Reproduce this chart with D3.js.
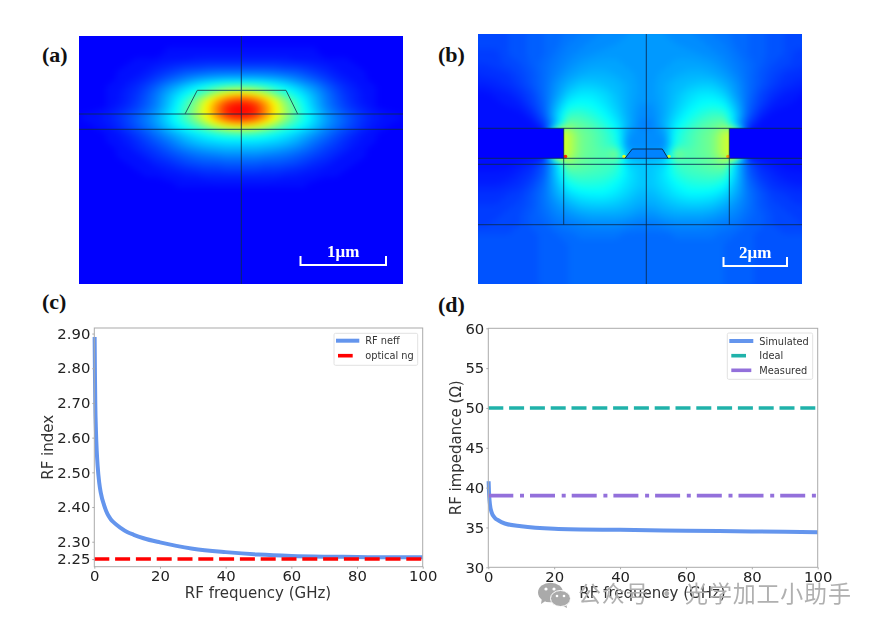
<!DOCTYPE html>
<html>
<head>
<meta charset="utf-8">
<script src="https://cdn.jsdelivr.net/npm/d3@7"></script>
<style>
  html, body { margin: 0; background: #fff; }
  svg { display: block; }
  text { font-family: "DejaVu Sans", sans-serif; }
  .panelLabel { font-family: "Liberation Serif", serif; font-weight: bold; font-size: 22px; fill: #111; }
  .barLabel { font-family: "Liberation Serif", serif; font-weight: bold; font-size: 17px; fill: #fff; }
  .tick text { font-size: 14.8px; fill: #222; }
  .axisTitle { font-size: 15px; fill: #333; }
  .legendText { font-size: 9.8px; fill: #333; }
  .soft { filter: blur(0.45px); }
</style>
</head>
<body>
<svg id="fig" width="879" height="629"></svg>
<script>
// ---- chart (c) ----
const freqC = [0.1, 0.2, 0.3, 0.5, 0.75, 1, 1.5, 2, 3, 4, 5, 6, 8, 10, 12, 15, 20, 25, 30, 40, 50, 60, 70, 80, 90, 100];
const rfNeff = [2.89, 2.78, 2.70, 2.62, 2.56, 2.52, 2.47, 2.44, 2.405, 2.38, 2.365, 2.355, 2.34, 2.328, 2.32, 2.31, 2.298, 2.288, 2.28, 2.27, 2.263, 2.259, 2.257, 2.256, 2.255, 2.255];
const opticalNg = [2.25, 2.25];
const ticksC = [2.25, 2.30, 2.40, 2.50, 2.60, 2.70, 2.80, 2.90];

// ---- chart (d) ----
const freqD = [0.1, 0.2, 0.3, 0.5, 1, 2, 3, 5, 10, 20, 40, 60, 80, 100];
const simulated = [40.8, 39.6, 38.8, 37.9, 36.9, 36.2, 35.9, 35.5, 35.15, 34.85, 34.7, 34.6, 34.5, 34.4];
const ideal = [50, 50];
const measured = [39, 39];
const ticksD = [30, 35, 40, 45, 50, 55, 60];

const freqEnds = [0, 100];
const ticksX = [0, 20, 40, 60, 80, 100];

// ---- field (a): optical mode, half rows from the centre line outwards, percent ----
const fieldAYs = [51, 58, 65, 72, 79, 86, 93, 100, 107, 114, 121, 128, 135, 142, 149, 156, 163, 170, 177, 184];
const fieldADx = [5, 15, 25, 35, 45, 55, 65, 75, 85, 95, 105, 115, 125, 135, 145, 155];
const fieldA = [
  [1, 1, 1, 1, 1, 1, 1, 1, 0, 0, 0, 0, 0, 0, 0, 0],
  [3, 3, 3, 3, 3, 2, 2, 2, 1, 1, 1, 0, 0, 0, 0, 0],
  [7, 7, 7, 7, 6, 6, 5, 4, 3, 2, 1, 1, 0, 0, 0, 0],
  [14, 14, 14, 13, 12, 11, 9, 7, 5, 3, 2, 1, 1, 0, 0, 0],
  [24, 24, 23, 22, 20, 17, 14, 11, 8, 5, 3, 2, 1, 0, 0, 0],
  [42, 41, 38, 34, 30, 26, 21, 17, 12, 8, 5, 3, 1, 1, 0, 0],
  [67, 62, 54, 45, 38, 32, 27, 21, 15, 10, 6, 4, 2, 1, 0, 0],
  [90, 85, 75, 61, 49, 39, 30, 23, 16, 11, 7, 4, 2, 1, 0, 0],
  [100, 95, 81, 66, 52, 42, 32, 24, 17, 12, 8, 5, 3, 1, 0, 0],
  [100, 95, 81, 66, 54, 43, 34, 27, 20, 15, 11, 8, 5, 3, 2, 1],
  [86, 81, 72, 60, 49, 41, 34, 27, 21, 16, 12, 8, 5, 3, 2, 1],
  [60, 57, 51, 45, 39, 34, 29, 24, 18, 14, 10, 7, 4, 2, 1, 0],
  [38, 37, 35, 32, 29, 26, 22, 18, 14, 10, 7, 4, 2, 1, 0, 0],
  [29, 29, 28, 27, 25, 22, 18, 14, 11, 8, 5, 3, 2, 1, 0, 0],
  [23, 23, 22, 21, 19, 17, 14, 11, 8, 6, 4, 2, 1, 0, 0, 0],
  [17, 17, 16, 15, 14, 12, 10, 8, 6, 4, 2, 1, 1, 0, 0, 0],
  [12, 12, 11, 11, 10, 9, 7, 5, 4, 2, 1, 1, 0, 0, 0, 0],
  [8, 8, 7, 7, 6, 5, 4, 3, 2, 1, 1, 0, 0, 0, 0, 0],
  [4, 4, 4, 4, 3, 3, 2, 2, 1, 1, 0, 0, 0, 0, 0, 0],
  [2, 2, 2, 1, 1, 1, 1, 0, 0, 0, 0, 0, 0, 0, 0, 0]
];

// ---- field (b): RF mode, same layout ----
const fieldBYs = [34, 44, 54, 64, 74, 84, 94, 104, 114, 124, 134, 144, 154, 164, 174, 184, 194, 204, 214, 224, 234, 244, 254, 264, 274, 284];
const fieldBDx = [6, 18, 30, 42, 54, 66, 78, 90, 102, 114, 126, 138, 150, 162, 174];
const fieldB = [
  [19, 19, 18, 18, 17, 16, 15, 14, 13, 12, 11, 10, 9, 9, 9],
  [19, 19, 19, 18, 18, 17, 16, 14, 13, 12, 11, 10, 9, 9, 9],
  [19, 20, 20, 20, 19, 18, 17, 15, 13, 12, 11, 10, 8, 8, 8],
  [19, 20, 21, 21, 21, 20, 18, 16, 14, 12, 10, 9, 8, 7, 7],
  [20, 21, 22, 23, 23, 22, 20, 17, 14, 11, 9, 7, 6, 6, 5],
  [20, 22, 24, 25, 26, 26, 23, 19, 14, 11, 8, 6, 5, 4, 4],
  [20, 22, 25, 28, 30, 30, 27, 20, 14, 9, 6, 4, 3, 2, 2],
  [19, 22, 26, 30, 33, 34, 32, 23, 13, 8, 4, 3, 2, 1, 1],
  [18, 22, 28, 33, 37, 40, 39, 26, 12, 5, 2, 1, 1, 1, 1],
  [17, 23, 31, 37, 42, 45, 48, 24, 8, 2, 1, 1, 1, 1, 1],
  [18, 20, 35, 41, 45, 48, 58, 62, 1, 1, 1, 1, 1, 1, 1],
  [18, 18, 36, 41, 45, 48, 58, 62, 1, 1, 1, 1, 1, 1, 1],
  [20, 22, 50, 44, 45, 48, 58, 66, 1, 1, 1, 1, 1, 1, 1],
  [26, 28, 40, 42, 44, 46, 50, 26, 11, 5, 3, 2, 1, 1, 1],
  [26, 30, 37, 40, 41, 42, 41, 26, 12, 7, 5, 3, 3, 3, 3],
  [26, 29, 33, 36, 37, 37, 34, 24, 14, 9, 6, 5, 4, 4, 4],
  [24, 27, 30, 32, 32, 31, 28, 22, 15, 11, 8, 7, 6, 6, 6],
  [22, 24, 26, 27, 27, 26, 23, 19, 15, 11, 9, 8, 7, 7, 7],
  [19, 21, 22, 22, 22, 21, 19, 17, 14, 12, 10, 9, 8, 8, 8],
  [16, 17, 18, 18, 18, 17, 16, 15, 13, 12, 10, 9, 9, 8, 8],
  [14, 14, 15, 15, 15, 15, 14, 13, 12, 11, 10, 10, 10, 10, 10],
  [14, 14, 14, 14, 14, 14, 13, 12, 12, 11, 11, 11, 10, 10, 10],
  [14, 14, 14, 14, 14, 14, 13, 12, 12, 11, 11, 11, 10, 10, 10],
  [13, 13, 13, 13, 13, 13, 13, 12, 12, 11, 11, 11, 10, 10, 10],
  [13, 13, 13, 13, 13, 13, 13, 12, 12, 11, 11, 11, 10, 10, 10],
  [13, 13, 13, 13, 13, 13, 13, 12, 12, 11, 11, 11, 10, 10, 10]
];

const svg = d3.select('#fig');

const fieldColor = d3.scaleLinear()
  .domain([0, 0.33, 0.66, 1])
  .range(['#0000ff', '#00ffff', '#ffff00', '#ff0000']);
const levels = d3.range(0.01, 1, 0.015);

const defs = svg.append('defs');
defs.append('filter').attr('id', 'smear')
  .attr('color-interpolation-filters', 'sRGB')
  .attr('x', '-5%').attr('y', '-5%').attr('width', '110%').attr('height', '110%')
  .append('feGaussianBlur').attr('stdDeviation', 3);

// mirror a half field around its centre line and fill it with contours
function drawField(g, rows, dx, ys, cx, box) {
  const full = dx.slice().reverse().map((d) => -d).concat(dx);
  const n = full.length;
  const m = ys.length;
  const values = [];
  rows.forEach((r) => {
    r.slice().reverse().concat(r).forEach((v) => values.push(v / 100));
  });
  const px = d3.scaleLinear().domain([0.5, n - 0.5]).range([cx + full[0], cx + full[n - 1]]);
  const py = d3.scaleLinear().domain([0.5, m - 0.5]).range([ys[0], ys[m - 1]]);
  const project = d3.geoTransform({
    point(x, y) { this.stream.point(px(x), py(y)); },
  });
  const path = d3.geoPath(project);
  const contours = d3.contours().size([n, m]).thresholds(levels)(values);

  const id = `clip${box.x}`;
  defs.append('clipPath').attr('id', id)
    .append('rect').attr('x', box.x).attr('y', box.y).attr('width', box.w).attr('height', box.h);
  const f = g.append('g').attr('clip-path', `url(#${id})`);
  const smooth = f.append('g').attr('filter', 'url(#smear)');
  smooth.append('rect')
    .attr('x', box.x - 30).attr('y', box.y - 30).attr('width', box.w + 60).attr('height', box.h + 60)
    .attr('fill', fieldColor(box.base));
  smooth.selectAll('path').data(contours).join('path')
    .attr('d', path)
    .attr('fill', (d) => fieldColor(d.value + 0.0075));
  return f;
}

function segs(g, list, color, width) {
  g.selectAll(null).data(list).join('line')
    .attr('x1', (d) => d[0]).attr('y1', (d) => d[1])
    .attr('x2', (d) => d[2]).attr('y2', (d) => d[3])
    .attr('stroke', color).attr('stroke-width', width).attr('stroke-opacity', 0.85);
}

function scaleBar(g, x0, x1, y, h, label) {
  g.append('path')
    .attr('d', `M${x0},${y - h}V${y}H${x1}V${y - h}`)
    .attr('fill', 'none').attr('stroke', '#fff').attr('stroke-width', 2);
  g.append('text').attr('class', 'barLabel')
    .attr('x', (x0 + x1) / 2).attr('y', y - 8).attr('text-anchor', 'middle').text(label);
}

// ---- (a) ----
const boxA = { x: 79, y: 36, w: 324, h: 248, base: 0 };
const gA = svg.append('g').attr('class', 'soft');
drawField(gA, fieldA, fieldADx, fieldAYs, 241, boxA);
segs(gA, [[79, 114, 403, 114], [79, 129.3, 403, 129.3], [241.3, 36, 241.3, 284]], '#0a2a50', 1);
gA.append('path').attr('d', 'M185,114L197.3,90.3H286L297.7,114')
  .attr('fill', 'none').attr('stroke', '#1f5f5f').attr('stroke-width', 1);
scaleBar(gA, 300.5, 386, 265, 9, '1μm');

// ---- (b) ----
const boxB = { x: 478, y: 34, w: 324, h: 250, base: 0.1 };
const gB = svg.append('g').attr('class', 'soft');
const fB = drawField(gB, fieldB, fieldBDx, fieldBYs, 646.3, boxB);
// electrodes and waveguide core have hard edges
fB.append('rect').attr('x', 478).attr('y', 128.3).attr('width', 85.7).attr('height', 30).attr('fill', '#0000ff');
fB.append('rect').attr('x', 729.3).attr('y', 128.3).attr('width', 73).attr('height', 30).attr('fill', '#0000ff');
fB.append('path').attr('d', 'M625,158.3L632.3,149H662.3L668,158.3Z').attr('fill', fieldColor(0.17));
fB.selectAll('circle').data([[565.5, 156.5, 0.95], [728, 156.5, 0.8], [624, 156.5, 0.62], [669, 156.5, 0.6]]).join('circle')
  .attr('cx', (d) => d[0]).attr('cy', (d) => d[1]).attr('r', 1.8).attr('fill', (d) => fieldColor(d[2]));
segs(gB, [
  [478, 128.3, 802, 128.3], [478, 158.3, 802, 158.3], [478, 164.3, 802, 164.3], [478, 224.7, 802, 224.7],
  [646.3, 34, 646.3, 284], [563.7, 128.3, 563.7, 224.7], [729.3, 128.3, 729.3, 224.7],
], '#0a2a50', 1);
gB.append('path').attr('d', 'M625,158.3L632.3,149H662.3L668,158.3')
  .attr('fill', 'none').attr('stroke', '#0a2a50').attr('stroke-width', 1);
scaleBar(gB, 723.5, 787, 266, 9, '2μm');

// ---- line charts ----
function drawAxes(g, x, y, tickVals, fmt, yLabel, yLabelX) {
  const [x0, x1] = x.range();
  const [y0, y1] = y.range();
  g.append('rect').attr('x', x0).attr('y', y1).attr('width', x1 - x0).attr('height', y0 - y1)
    .attr('fill', 'none').attr('stroke', '#aaa').attr('stroke-width', 1);
  const ax = g.append('g').attr('transform', `translate(0,${y0})`)
    .call(d3.axisBottom(x).tickValues(ticksX).tickSize(2).tickPadding(2));
  const ay = g.append('g').attr('transform', `translate(${x0},0)`)
    .call(d3.axisLeft(y).tickValues(tickVals).tickFormat(fmt).tickSize(2).tickPadding(2));
  [ax, ay].forEach((a) => {
    a.select('.domain').remove();
    a.selectAll('line').attr('stroke', '#aaa');
    a.selectAll('text').attr('style', 'font-family:"DejaVu Sans",sans-serif');
  });
  g.append('text').attr('class', 'axisTitle').attr('text-anchor', 'middle')
    .attr('x', (x0 + x1) / 2 - 0.5).attr('y', y0 + 31).text('RF frequency (GHz)');
  g.append('text').attr('class', 'axisTitle').attr('text-anchor', 'middle')
    .attr('transform', `translate(${yLabelX},${(y0 + y1) / 2}) rotate(-90)`).text(yLabel);
}

function drawLine(g, x, y, xs, ys, color, width, dash, curve) {
  const line = d3.line().x((d) => x(d[0])).y((d) => y(d[1])).curve(curve || d3.curveLinear);
  g.append('path').attr('d', line(d3.zip(xs, ys)))
    .attr('fill', 'none').attr('stroke', color).attr('stroke-width', width)
    .attr('stroke-dasharray', dash || null);
}

function drawLegend(g, box, rows) {
  g.append('rect').attr('x', box.x).attr('y', box.y).attr('width', box.w).attr('height', box.h)
    .attr('rx', 1.5).attr('fill', '#fff').attr('fill-opacity', 0.8).attr('stroke', '#e2e2e2');
  rows.forEach((r) => {
    g.append('line').attr('x1', r.x0).attr('x2', r.x1).attr('y1', r.y).attr('y2', r.y)
      .attr('stroke', r.color).attr('stroke-width', r.width);
    g.append('text').attr('class', 'legendText').attr('x', box.tx).attr('y', r.y + 3.5).text(r.label);
  });
}

const blue = '#6495ed';
const teal = '#20b2aa';
const purple = '#9370db';

// (c)
const xC = d3.scaleLinear().domain([0, 100]).range([94.3, 422.7]);
const yC = d3.scaleLinear().domain([2.228, 2.916]).range([566.7, 328]);
const gC = svg.append('g').attr('class', 'soft');
drawLine(gC, xC, yC, freqC, rfNeff, blue, 4, null, d3.curveMonotoneX);
drawLine(gC, xC, yC, freqEnds, opticalNg, 'red', 3.6, '15,5.8');
drawAxes(gC, xC, yC, ticksC, d3.format('.2f'), 'RF index', 53);
drawLegend(gC, { x: 334, y: 333.3, w: 83.7, h: 32, tx: 365.3 }, [
  { x0: 336, x1: 359.3, y: 340.7, color: blue, width: 4, label: 'RF neff' },
  { x0: 338, x1: 352.7, y: 355.7, color: 'red', width: 3.6, label: 'optical ng' },
]);

// (d)
const xD = d3.scaleLinear().domain([0, 100]).range([488.3, 817.7]);
const yD = d3.scaleLinear().domain([30, 60]).range([567.3, 328.3]);
const gD = svg.append('g').attr('class', 'soft');
drawLine(gD, xD, yD, freqD, simulated, blue, 4, null, d3.curveMonotoneX);
drawLine(gD, xD, yD, freqEnds, ideal, teal, 3.6, '15,5.8');
drawLine(gD, xD, yD, freqEnds, measured, purple, 3.6, '25,6.7,4,6');
drawAxes(gD, xD, yD, ticksD, d3.format('d'), 'RF impedance (Ω)', 461);
drawLegend(gD, { x: 727.3, y: 333, w: 85.4, h: 46.3, tx: 759.3 }, [
  { x0: 729.3, x1: 753.3, y: 341, color: blue, width: 4, label: 'Simulated' },
  { x0: 731.3, x1: 746, y: 355.7, color: teal, width: 3.6, label: 'Ideal' },
  { x0: 731.3, x1: 751.3, y: 370.3, color: purple, width: 3.6, label: 'Measured' },
]);

// panel letters
const panelLetters = [['(a)', 42, 62], ['(b)', 438, 62], ['(c)', 42, 309], ['(d)', 438, 312]];
svg.selectAll('.panelLabel').data(panelLetters).join('text')
  .attr('class', 'panelLabel')
  .attr('x', (d) => d[1]).attr('y', (d) => d[2]).text((d) => d[0]);

// watermark, wechat mark and account name
const wm = svg.append('g').attr('class', 'soft').attr('fill', '#aaa');
wm.append('path').attr('d', 'M542,598L541,604L547,600Z');
wm.append('ellipse').attr('cx', 550.5).attr('cy', 592.5).attr('rx', 12.5).attr('ry', 9.8);
wm.append('path').attr('d', 'M566,603L567,608L561,605Z');
wm.append('ellipse').attr('cx', 560.5).attr('cy', 598.5).attr('rx', 10).attr('ry', 8)
  .attr('stroke', '#fff').attr('stroke-width', 1);
[[546, 589, 1.6], [554, 589, 1.6], [557, 596, 1.3], [564, 596, 1.3]].forEach((e) => {
  wm.append('circle').attr('cx', e[0]).attr('cy', e[1]).attr('r', e[2]).attr('fill', '#fff');
});
wm.append('text').attr('x', 578).attr('y', 602)
  .attr('style', 'font-family:"Noto Sans CJK SC";font-size:23px;fill:#b0b0b0;letter-spacing:0.8px')
  .text('公众号 · 光学加工小助手');
</script>
</body>
</html>
